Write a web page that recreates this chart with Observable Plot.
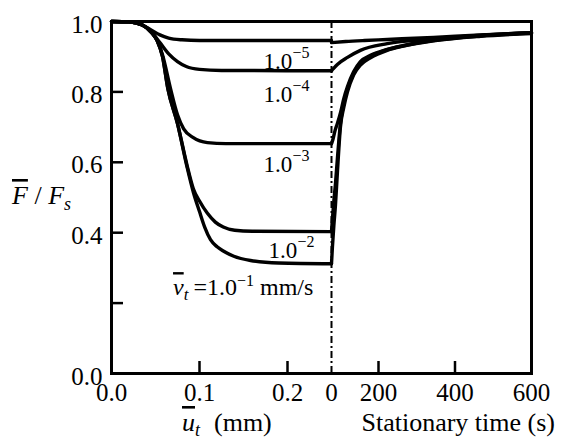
<!DOCTYPE html>
<html>
<head>
<meta charset="utf-8">
<script src="https://cdn.jsdelivr.net/npm/d3@7"></script>
<script src="https://cdn.jsdelivr.net/npm/@observablehq/plot@0.6"></script>
<style>
  html, body { margin: 0; padding: 0; background: #fff; }
  #chart svg { display: block; }
</style>
</head>
<body>
<div id="chart"></div>
<script>
// ---- data: loading speed (mm/s) exponents ----
const rateNames = ["1e-5", "1e-4", "1e-3", "1e-2", "1e-1"];
const rateExponents = ["\u22125", "\u22124", "\u22123", "\u22122", "\u22121"];

// Left panel: [tangential displacement u_t (mm), F/Fs]
const disp_e5 = [[0,1],[0.02,0.999],[0.035,0.99],[0.045,0.976],[0.055,0.962],[0.065,0.953],[0.08,0.948],[0.1,0.946],[0.25,0.946]];
const disp_e4 = [[0,1],[0.02,0.999],[0.035,0.99],[0.045,0.972],[0.055,0.94],[0.065,0.908],[0.075,0.886],[0.085,0.872],[0.1,0.864],[0.125,0.861],[0.25,0.86]];
const disp_e3 = [[0,1],[0.02,0.999],[0.035,0.99],[0.045,0.97],[0.052,0.945],[0.058,0.905],[0.067,0.81],[0.075,0.735],[0.082,0.695],[0.093,0.67],[0.109,0.656],[0.13,0.653],[0.25,0.653]];
const disp_e2 = [[0,1],[0.02,0.999],[0.035,0.99],[0.045,0.97],[0.052,0.945],[0.058,0.9],[0.064,0.81],[0.075,0.71],[0.086,0.59],[0.093,0.525],[0.1,0.49],[0.109,0.455],[0.118,0.43],[0.127,0.416],[0.14,0.407],[0.16,0.404],[0.25,0.403]];
const disp_e1 = [[0,1],[0.02,0.999],[0.035,0.99],[0.045,0.97],[0.052,0.945],[0.058,0.9],[0.064,0.81],[0.075,0.71],[0.086,0.585],[0.093,0.515],[0.1,0.46],[0.106,0.415],[0.1125,0.38],[0.12,0.36],[0.127,0.348],[0.139,0.333],[0.158,0.321],[0.19,0.314],[0.25,0.312]];

// Right panel: [stationary time (s), F/Fs]
const time_e5 = [[0,0.94],[60,0.943],[140,0.946],[223,0.949],[344,0.955],[467,0.962],[600,0.968]];
const time_e4 = [[0,0.86],[8,0.866],[25,0.878],[68,0.898],[123,0.918],[223,0.937],[344,0.95],[467,0.961],[600,0.968]];
const time_e3 = [[0,0.653],[6,0.665],[15,0.69],[25,0.71],[38,0.74],[52,0.78],[68,0.815],[94,0.857],[123,0.886],[166,0.904],[223,0.921],[265,0.932],[344,0.947],[467,0.96],[600,0.968]];
const time_e2 = [[0,0.403],[4,0.44],[10,0.49],[17,0.54],[25,0.61],[38,0.71],[52,0.765],[68,0.808],[94,0.852],[123,0.88],[166,0.9],[223,0.92],[265,0.931],[344,0.946],[467,0.959],[600,0.967]];
const time_e1 = [[0,0.312],[4,0.36],[10,0.42],[17,0.48],[25,0.57],[38,0.70],[52,0.755],[68,0.80],[94,0.848],[123,0.876],[166,0.897],[223,0.918],[265,0.93],[344,0.945],[467,0.958],[600,0.966]];

// ticks
const dispTicks = [0, 0.1, 0.2];
const dispTickLabels = ["0.0", "0.1", "0.2"];
const timeTicks = [0, 200, 400, 600];
const timeTickLabels = ["0", "200", "400", "600"];
const yTicks = [0, 0.2, 0.4, 0.6, 0.8, 1.0];
const yTickLabels = ["0.0", "", "0.4", "0.6", "0.8", "1.0"];

// curve label anchors: [u (mm), F/Fs]
const labelAnchors = [[0.1727, 0.886], [0.1727, 0.791], [0.1727, 0.592], [0.1784, 0.349]];

// ---- build table ----
const U_END = 0.25;                 // end of displacement panel (mm)
const toX = t => U_END + t / 1000;  // stationary-time panel placed after it
const leftSets = [disp_e5, disp_e4, disp_e3, disp_e2, disp_e1];
const rightSets = [time_e5, time_e4, time_e3, time_e2, time_e1];
const rows = [];
rateNames.forEach((name, i) => {
  leftSets[i].forEach(([u, f]) => rows.push({g: name + "L", x: u, y: f}));
  rightSets[i].forEach(([t, f]) => rows.push({g: name + "R", x: toX(t), y: f}));
});

const xTickPos = [...dispTicks, ...timeTicks.map(toX)];
const xTickText = new Map(xTickPos.map((p, i) => [p, [...dispTickLabels, ...timeTickLabels][i]]));
const yTickText = new Map(yTicks.map((v, i) => [v, yTickLabels[i]]));
const labelRows = labelAnchors.map(([u, f], i) => ({x: u, y: f, base: "1.0", exp: rateExponents[i]}));

const W = 561, H = 444, ML = 111, MR = 30, MT = 21, MB = 71;
const innerH = H - MT - MB;
const tickLenY = 12 / innerH;          // in F/Fs units
const tickLenX = 12 / 880;             // in mm units (880 px per mm)

const plot = Plot.plot({
  width: W, height: H,
  marginLeft: ML, marginRight: MR, marginTop: MT, marginBottom: MB,
  style: {fontFamily: '"Liberation Serif", "Times New Roman", serif', fontSize: "25px", background: "#fff", color: "#000"},
  x: {type: "linear", domain: [0, U_END, toX(200), toX(600)], range: [ML, 331, 378, W - MR], axis: null},
  y: {domain: [0, 1], axis: null},
  marks: [
    Plot.frame({stroke: "#000", strokeWidth: 3}),
    Plot.ruleX([U_END], {stroke: "#000", strokeWidth: 2, strokeDasharray: "7,3,2,3"}),
    Plot.ruleY(yTicks.filter(v => v > 0 && v < 1), {x1: 0, x2: tickLenX, stroke: "#000", strokeWidth: 2.5}),
    Plot.ruleX(xTickPos.filter(p => p > 0 && p !== U_END && p < toX(600)), {y1: 0, y2: tickLenY, stroke: "#000", strokeWidth: 2.5}),
    Plot.line(rows, {x: "x", y: "y", z: "g", stroke: "#000", strokeWidth: 3.4, curve: "monotone-x", strokeLinejoin: "round"}),
    Plot.axisX(xTickPos, {tickSize: 0, tickPadding: 10, tickFormat: d => xTickText.get(d), fontSize: 25, label: null}),
    Plot.axisY(yTicks.filter(v => yTickText.get(v) !== ""), {tickSize: 0, tickPadding: 9, dy: 3, tickFormat: d => yTickText.get(d), fontSize: 25, label: null}),
    Plot.text(labelRows, {x: "x", y: "y", text: "base", textAnchor: "start", fontSize: 23, fill: "#000"}),
    Plot.text(labelRows, {x: "x", y: "y", text: "exp", textAnchor: "start", dx: 29, dy: -9, fontSize: 16, fill: "#000"})
  ]
});

// ---- rich text labels (italic, overbar, sub/superscripts) ----
const svg = d3.select(plot);
const sx = plot.scale("x"), sy = plot.scale("y");
const ff = '"Liberation Serif", "Times New Roman", serif';
function richText(x, y, size, anchor) {
  return svg.append("text").attr("x", x).attr("y", y).attr("text-anchor", anchor)
    .attr("font-family", ff).attr("font-size", size).attr("fill", "#000");
}

// v_t = 1.0^-1 mm/s label near the lowest curve
const vt = richText(sx.apply(0.0705), sy.apply(0.244) + 8, 24, "start");
vt.append("tspan").attr("font-style", "italic").style("text-decoration", "overline").text("v");
vt.append("tspan").attr("font-style", "italic").attr("font-size", 17).attr("dy", 5).text("t");
vt.append("tspan").attr("dy", -5).attr("dx", 5).text("=1.0");
vt.append("tspan").attr("font-size", 16).attr("dy", -9).text(rateExponents[4]);
vt.append("tspan").attr("dy", 9).text(" mm/s");

// y-axis title
const yt = richText(12, 204, 26, "start");
yt.append("tspan").attr("font-style", "italic").style("text-decoration", "overline").text("F");
yt.append("tspan").text(" / ");
yt.append("tspan").attr("font-style", "italic").text("F");
yt.append("tspan").attr("font-style", "italic").attr("font-size", 18).attr("dy", 6).text("s");

// x-axis titles
const xt1 = richText(182, 431, 26, "start");
xt1.append("tspan").attr("font-style", "italic").style("text-decoration", "overline").text("u");
xt1.append("tspan").attr("font-style", "italic").attr("font-size", 18).attr("dy", 5).text("t");
xt1.append("tspan").attr("dy", -5).attr("dx", 14).text("(mm)");

richText(555, 431, 26, "end").text("Stationary time (s)");

document.getElementById("chart").appendChild(plot);
</script>
</body>
</html>
